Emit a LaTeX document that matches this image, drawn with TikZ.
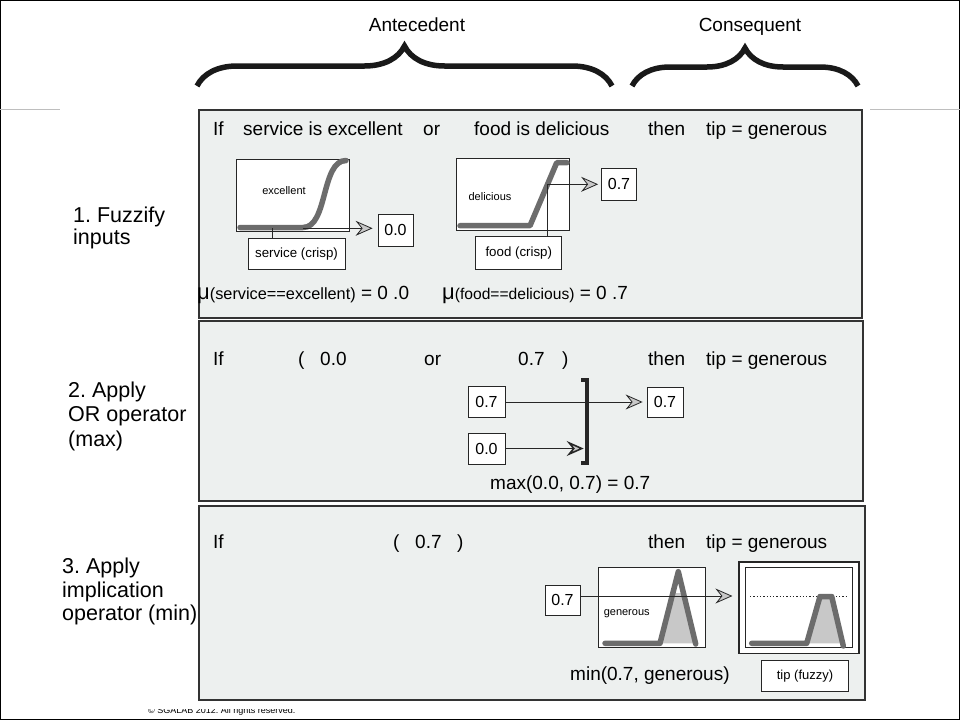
\documentclass[tikz,border=0pt]{standalone}
\usepackage{fontspec}
\setmainfont{Liberation Sans}
\usetikzlibrary{arrows.meta,decorations.pathreplacing}
\definecolor{panelgray}{RGB}{237,240,239}
\definecolor{curvegray}{RGB}{108,108,108}
\definecolor{fillgray}{RGB}{200,200,200}
\definecolor{arrowgray}{RGB}{200,200,200}
\definecolor{rulegray}{RGB}{190,190,190}
\frenchspacing
\tikzset{
  rulefont/.style={font=\fontsize{19}{22}\selectfont, inner sep=0pt},
  stepfont/.style={font=\fontsize{21.5}{24}\selectfont, inner sep=0pt},
  panel/.style={draw=black!80, line width=2pt, fill=panelgray},
  valbox/.style={draw=black!85, line width=0.8pt, fill=white, inner sep=0pt,
                 font=\fontsize{16}{18}\selectfont},
  crispbox/.style={draw=black!85, line width=0.8pt, fill=white, inner sep=0pt,
                   font=\fontsize{13.3}{16}\selectfont},
  mfbox/.style={draw=black!85, line width=0.7pt, fill=white, inner sep=0pt},
  mflabel/.style={font=\fontsize{11}{13}\selectfont},
  mfcurve/.style={draw=curvegray, line width=5.5pt, line cap=round, line join=round},
  thinline/.style={draw=black!85, line width=0.8pt},
  flow/.style={thinline, -{Stealth[length=17pt,width=15pt,inset=6pt,fill=arrowgray]}},
  bigbrace/.style={decorate, line width=5.5pt, black!90}
}
\begin{document}
\begin{tikzpicture}[
  x=1pt,
  y=-1pt,
]
\useasboundingbox (0,0) rectangle (960,720);
\draw[black, line width=1pt] (0.5,0.5) rectangle (959.5,719.5);
\draw[rulegray, line width=1pt] (0,109) -- (60,109) (870,109) -- (960,109);

\node[rulefont, anchor=base] (ante) at (417,31) {Antecedent};
\node[rulefont, anchor=base] (cons) at (750,31) {Consequent};
\draw[bigbrace, decoration={brace, amplitude=40pt}] (197,86) -- (612,86);
\draw[bigbrace, decoration={brace, amplitude=38pt}] (632,86) -- (858,86);

\foreach [count=\i] \ya/\yb/\xr/\yt in {110/318/862/135,
                                       321/501/863/365,
                                       506/700/865/548}
  {
   \draw[panel] (199,\ya) rectangle (\xr,\yb);
   \node[rulefont, anchor=base west] (if-\i) at (213,\yt) {If};
   \node[rulefont, anchor=base west] (then-\i) at (648,\yt) {then};
   \node[rulefont, anchor=base west] (tip-\i) at (706,\yt) {tip = generous};
  }

\foreach [count=\i] \x/\y/\t in {73/222.5/1. Fuzzify,
                                 73/244.5/inputs,
                                 68/397/2. Apply,
                                 68/421.5/OR operator,
                                 68/446/(max),
                                 62/573/3. Apply,
                                 62/597/implication,
                                 62/620.5/operator (min)}
  {
   \node[stepfont, anchor=base west, name=step-\i] at (\x,\y) {\t};
  }

% 1. fuzzify
\node[rulefont, anchor=base west] (serv) at (243,135) {service is excellent};
\node[rulefont, anchor=base west] (or-1) at (423,135) {or};
\node[rulefont, anchor=base west] (food) at (474,135) {food is delicious};

\node[mfbox, minimum width=113pt, minimum height=72pt] (excmf) at (292.5,195) {};
\node[mflabel] (exclabel) at (284,191) {excellent};
\draw[mfcurve] (240,227.5) -- (303,227.5)
      .. controls (328,227.5) and (321,160.5) .. (346,160.5);
\coordinate (excpt) at (272,228.3);
\coordinate (excout) at (303,228.3);
\node[crispbox, minimum width=97pt, minimum height=31pt] (excin) at (296.5,254) {service (crisp)};
\node[valbox, minimum width=35pt, minimum height=32pt] (excval) at (395.5,230) {0.0};
\draw[thinline] (excpt) -- (excpt |- excin.north);
\draw[flow, shorten >=5pt] (excout) -- (excout -| excval.west);

\node[mfbox, minimum width=113pt, minimum height=72pt] (foodmf) at (512.5,194) {};
\node[mflabel] (foodlabel) at (490,197) {delicious};
\draw[mfcurve] (460,225.7) -- (530,225.7) -- (556.7,162.7) -- (567,162.7);
\coordinate (foodpt) at (547,184.3);
\node[crispbox, minimum width=86pt, minimum height=33pt] (foodin) at (518.8,253) {food (crisp)};
\node[valbox, minimum width=35pt, minimum height=32pt] (foodval) at (619,184.3) {0.7};
\draw[thinline] (foodpt) -- (foodpt |- foodin.north);
\draw[flow, shorten >=3pt] (foodpt) -- (foodval.west);

\node[rulefont, anchor=base west] (muexc) at (197,299)
  {{\fontsize{22}{22}\selectfont μ}{\fontsize{16.3}{18}\selectfont(service==excellent)} = 0 .0};
\node[rulefont, anchor=base west] (mufood) at (442,299)
  {{\fontsize{22}{22}\selectfont μ}{\fontsize{15.6}{18}\selectfont(food==delicious)} = 0 .7};

% 2. or operator
\node[rulefont, anchor=base west] (lpar-2) at (298,365) {(};
\node[rulefont, anchor=base west] (ora) at (320,365) {0.0};
\node[rulefont, anchor=base west] (or-2) at (424,365) {or};
\node[rulefont, anchor=base west] (orb) at (518,365) {0.7};
\node[rulefont, anchor=base west] (rpar-2) at (562,365) {)};

\node[valbox, minimum width=37pt, minimum height=31pt] (orA) at (486.5,402) {0.7};
\node[valbox, minimum width=37pt, minimum height=31pt] (orB) at (486.5,448.5) {0.0};
\node[valbox, minimum width=36pt, minimum height=30pt] (orout) at (665,402) {0.7};
\coordinate (maxbar) at (586.7,448.5);
\draw[black!85, line width=4pt] (581,379.5) -- (586.7,379.5) -- (586.7,462.5) -- (581,462.5);
\draw[flow, shorten >=4pt] (orA) -- (orout);
\draw[flow, line width=1.6pt, shorten >=3pt] (orB) -- (maxbar);
\node[rulefont, anchor=base west] (maxtext) at (490,489) {max(0.0, 0.7) = 0.7};

% 3. implication
\node[rulefont, anchor=base west] (lpar-3) at (393,548) {(};
\node[rulefont, anchor=base west] (imp) at (415,548) {0.7};
\node[rulefont, anchor=base west] (rpar-3) at (457,548) {)};

\node[valbox, minimum width=35pt, minimum height=30pt] (imp07) at (562.5,600) {0.7};
\node[mfbox, minimum width=107.4pt, minimum height=80pt] (genmf) at (652,607.3) {};
\fill[fillgray] (660,643.3) -- (672.8,593) -- (683.4,593) -- (695.7,643.3) -- cycle;
\draw[mfcurve] (605,643.3) -- (660,643.3) -- (678.3,571.7) -- (695.7,644);
\node[mflabel] (genlabel) at (626.7,614) {generous};

\node[mfbox, line width=1.6pt, minimum width=120pt, minimum height=91.6pt] (tipout) at (799.2,607.5) {};
\node[mfbox, minimum width=107.7pt, minimum height=80pt] (tipmf) at (798.9,607.3) {};
\draw[black!85, dotted, line width=1.3pt] (750,596.7) -- (848,596.7);
\fill[fillgray] (806.7,643.3) -- (820,596.5) -- (831.7,596.5) -- (843.3,643.3) -- cycle;
\draw[mfcurve] (751.7,643.3) -- (806.7,643.3) -- (820,596.5) -- (831.7,596.5) -- (843.3,646);

\draw[flow, shorten >=6pt] ([yshift=4pt]imp07.east) -- ([yshift=4pt]imp07.east -| tipout.west);

\node[rulefont, anchor=base west] (mintext) at (570,680) {min(0.7, generous)};
\node[crispbox, minimum width=87pt, minimum height=31pt, font=\fontsize{13}{15}\selectfont] (tipfuzzy) at (805,676) {tip (fuzzy)};

\begin{scope}
  \clip (0,709) rectangle (960,720);
  \node[font=\fontsize{9}{10}\selectfont, anchor=base west, inner sep=0pt] (copy) at (148,713) {© SGALAB 2012. All rights reserved.};
\end{scope}

\end{tikzpicture}
\end{document}
